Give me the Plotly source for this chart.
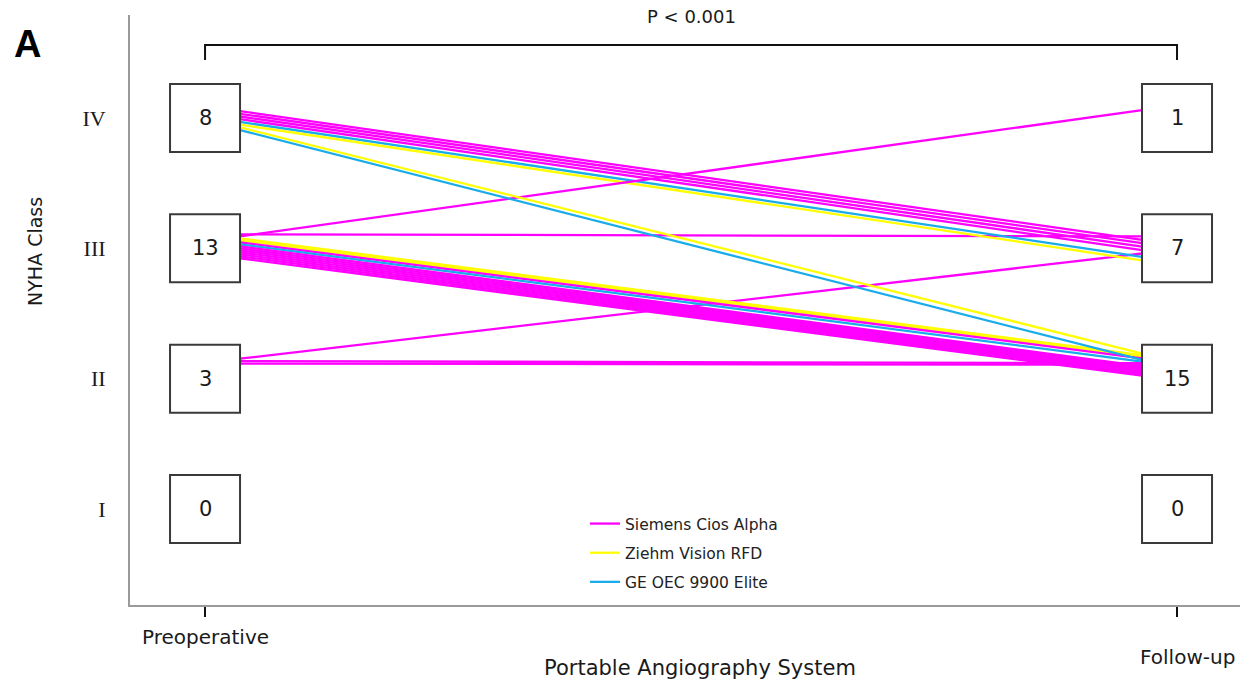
import plotly.graph_objects as go

# ---------------- data ----------------
classes = ["I", "II", "III", "IV"]
class_vals = [1, 2, 3, 4]
pre_counts = [0, 3, 13, 8]
post_counts = [0, 15, 7, 1]
time_points = ["Preoperative", "Follow-up"]
time_vals = [0, 1]

devices = ["Siemens Cios Alpha", "Ziehm Vision RFD", "GE OEC 9900 Elite"]
device_colors = ["#FF00FF", "#FFFF00", "#1AACEA"]

# per-patient NYHA class (preoperative -> follow-up) and device index
patient_pre = [3, 4, 4, 4, 4, 2, 4, 4, 3, 4, 3, 3, 3, 4, 3, 2, 2, 3, 3, 3, 3, 3, 3, 3]
patient_post = [3, 3, 3, 3, 3, 3, 3, 3, 4, 2, 2, 2, 2, 2, 2, 2, 2, 2, 2, 2, 2, 2, 2, 2]
patient_device = [0, 0, 0, 0, 0, 0, 2, 1, 0, 1, 1, 1, 0, 2, 2, 0, 0, 0, 0, 0, 0, 0, 0, 0]

# ---------------- layout constants ----------------
W, H = 1252, 686
ML, MR, MT, MB = 130, 12, 15, 81
Y0, Y1 = 0.263, 4.791
X0, X1 = -0.0772, 1.0648
PLOT_H = H - MT - MB
PX_PER_UNIT = PLOT_H / (Y1 - Y0)
PX_PER_X = (W - ML - MR) / (X1 - X0)
BOX_HALF_W = 35 / PX_PER_X
BOX_HALF_H = 34 / PX_PER_UNIT

# bundle spread at each endpoint (pixel offsets top..bottom from class centre)
PRE_SPAN_PX = {4: (-7, 12), 3: (-14, 10), 2: (-20, -15)}
POST_SPAN_PX = {4: (-8, -8), 3: (-12, 12), 2: (-25, -3)}


def endpoint_y(cls_list, spans):
    counts = {c: cls_list.count(c) for c in set(cls_list)}
    seen = {}
    out = []
    for c in cls_list:
        r = seen.get(c, 0)
        seen[c] = r + 1
        top, bot = spans[c]
        n = counts[c]
        off = top + (bot - top) * r / (n - 1) if n > 1 else top
        out.append(c - off / PX_PER_UNIT)
    return out


pre_y = endpoint_y(patient_pre, PRE_SPAN_PX)
post_y = endpoint_y(patient_post, POST_SPAN_PX)

fig = go.Figure()
shown = set()
for i in range(len(patient_pre)):
    d = patient_device[i]
    fig.add_trace(go.Scatter(
        x=[time_vals[0] + BOX_HALF_W, time_vals[1] - BOX_HALF_W],
        y=[pre_y[i], post_y[i]],
        mode="lines",
        line=dict(color=device_colors[d], width=2.3),
        name=devices[d],
        legendgroup=devices[d],
        legendrank=d + 1,
        showlegend=d not in shown,
        hoverinfo="skip",
    ))
    shown.add(d)

shapes = []
annotations = []
for t, counts in zip(time_vals, [pre_counts, post_counts]):
    for cv, n in zip(class_vals, counts):
        shapes.append(dict(
            type="rect", xref="x", yref="y", layer="above",
            x0=t - BOX_HALF_W, x1=t + BOX_HALF_W,
            y0=cv - BOX_HALF_H, y1=cv + BOX_HALF_H,
            line=dict(color="#3a3a3a", width=2), fillcolor="white",
        ))
        annotations.append(dict(
            x=t, y=cv, xref="x", yref="y", text=str(n), showarrow=False,
            xanchor="center", yanchor="middle",
            font=dict(size=21, color="#1a1a1a"),
        ))

# significance bracket
yb_top = 4 + (118 - 45) / PX_PER_UNIT
yb_low = 4 + (118 - 60) / PX_PER_UNIT
shapes.append(dict(
    type="path", xref="x", yref="y",
    path=f"M {time_vals[0]},{yb_low} L {time_vals[0]},{yb_top} L {time_vals[1]},{yb_top} L {time_vals[1]},{yb_low}",
    line=dict(color="#111111", width=2),
))


def px_to_paper_x(px):
    return (px - ML) / (W - ML - MR)


def px_to_paper_y(py):
    return (H - MB - py) / PLOT_H


def label(x, y, text, size, xref="paper", angle=0, family=None, color="#1a1a1a"):
    f = dict(size=size, color=color)
    if family:
        f["family"] = family
    return dict(x=x, xref=xref, y=y, yref="paper", text=text, showarrow=False,
                xanchor="center", yanchor="middle", textangle=angle, font=f)


annotations += [
    label(0.5 * (time_vals[0] + time_vals[1]), px_to_paper_y(17), "P &lt; 0.001", 18, xref="x"),
    label(time_vals[0], px_to_paper_y(637), time_points[0], 20, xref="x"),
    label(px_to_paper_x(1187), px_to_paper_y(657), time_points[1], 20),
    label(px_to_paper_x(700), px_to_paper_y(668), "Portable Angiography System", 21),
    label(px_to_paper_x(35), px_to_paper_y(252), "NYHA Class", 19, angle=-90),
    label(px_to_paper_x(27), px_to_paper_y(44), "<b>A</b>", 38, family="Liberation Sans", color="#000000"),
]

fig.update_layout(
    width=W, height=H,
    margin=dict(l=ML, r=MR, t=MT, b=MB),
    plot_bgcolor="white", paper_bgcolor="white",
    font=dict(family="DejaVu Sans", size=15, color="#1a1a1a"),
    showlegend=True,
    legend=dict(
        x=px_to_paper_x(585), y=px_to_paper_y(507), xanchor="left", yanchor="top",
        bgcolor="rgba(0,0,0,0)", font=dict(size=15.5, color="#222222"),
        traceorder="grouped", tracegroupgap=6, itemwidth=30,
    ),
    xaxis=dict(
        range=[X0, X1], tickvals=time_vals, showticklabels=False,
        ticks="outside", ticklen=10, tickwidth=2, tickcolor="#111111",
        showline=True, linecolor="#9a9a9a", linewidth=2,
        showgrid=False, zeroline=False, fixedrange=True,
    ),
    yaxis=dict(
        range=[Y0, Y1], tickvals=class_vals, ticktext=classes,
        tickfont=dict(family="Liberation Serif", size=22, color="#1a1a1a"),
        ticks="", ticklabelstandoff=18,
        showline=True, linecolor="#9a9a9a", linewidth=2,
        showgrid=False, zeroline=False, fixedrange=True,
    ),
    shapes=shapes,
    annotations=annotations,
)

fig.write_html(
    "out.html",
    config={"displayModeBar": False},
    post_script="document.body.style.margin='0';document.body.style.padding='0';",
)
